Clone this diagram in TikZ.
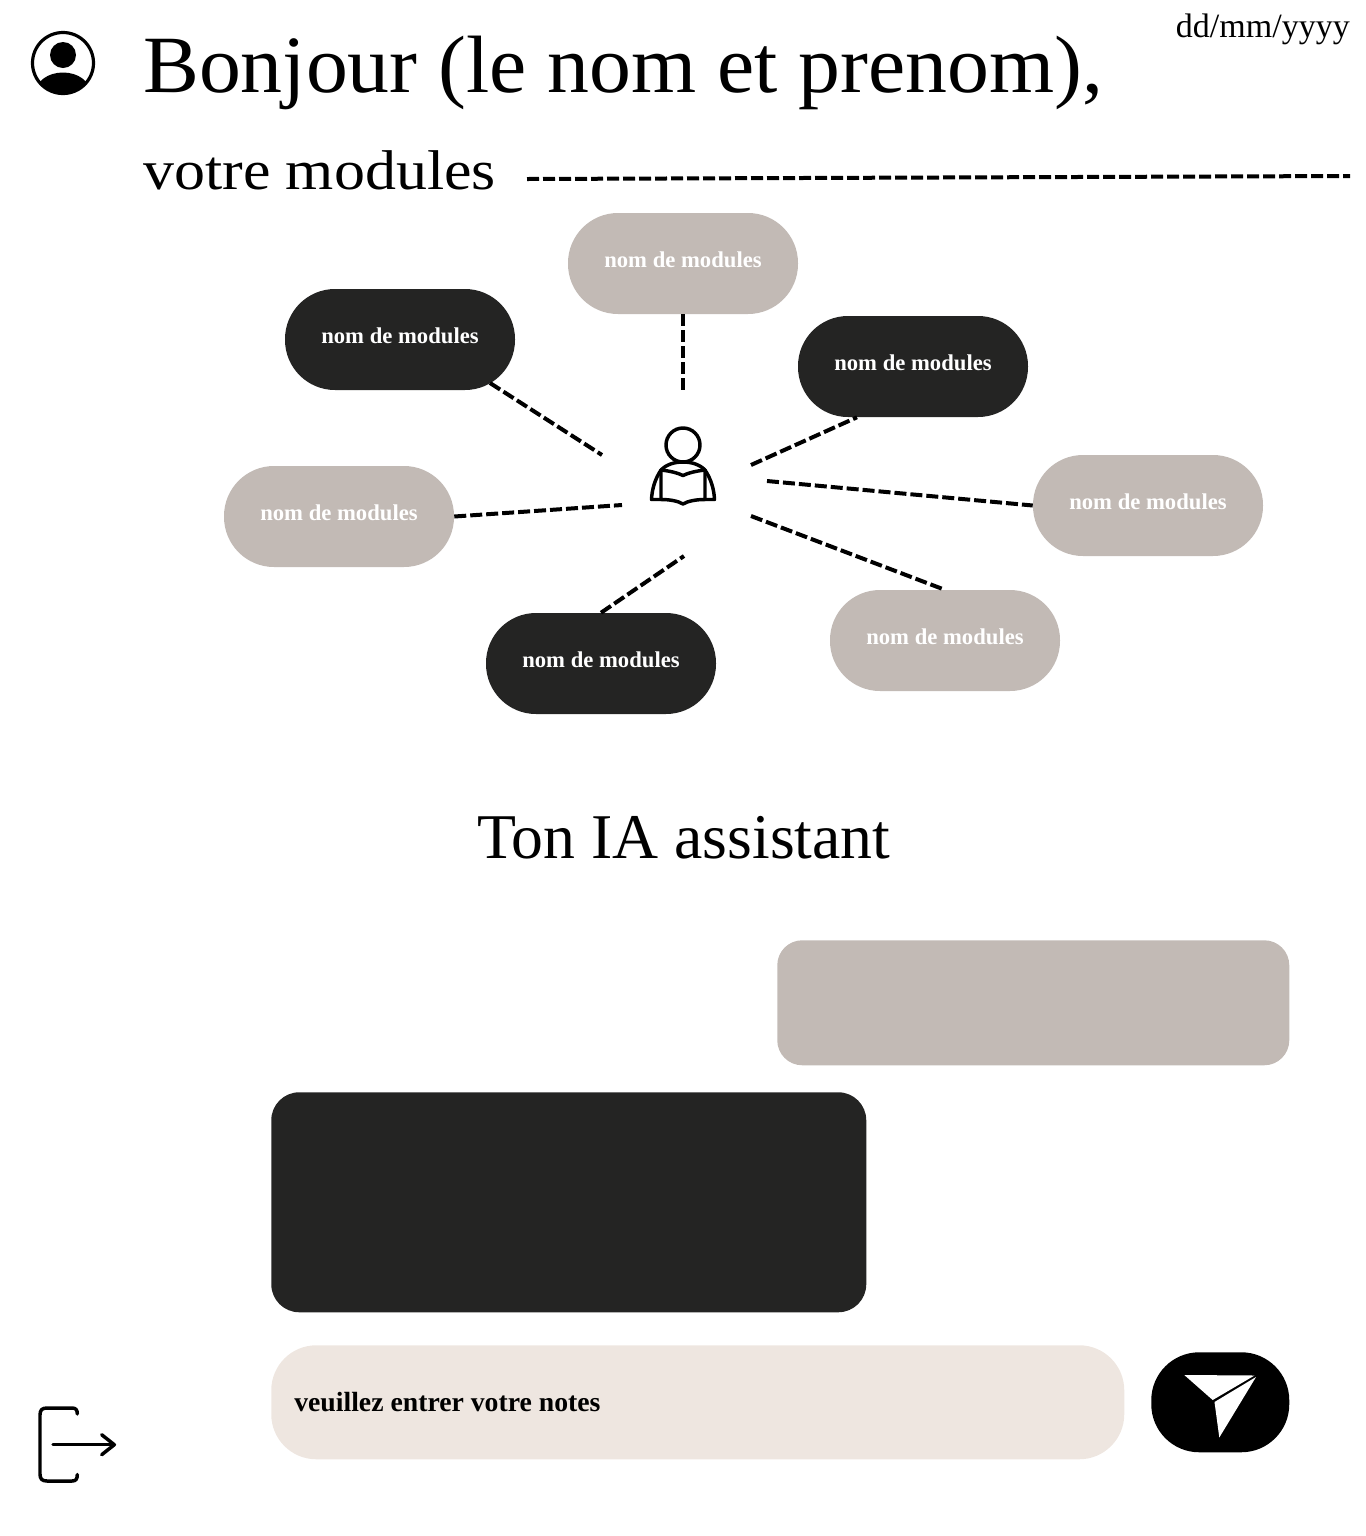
\documentclass[tikz,border=0pt]{standalone}
\usepackage{fontspec}
\setmainfont{Liberation Serif}
\usetikzlibrary{calc}
\definecolor{ink}{HTML}{000000}
\definecolor{sombre}{HTML}{242423}
\definecolor{taupe}{HTML}{C2BAB5}
\definecolor{creme}{HTML}{EEE6E0}
\tikzset{
  modbase/.style={rounded corners=50*0.75pt,minimum width=230*0.75pt,minimum height=101*0.75pt,inner sep=0pt,
    font=\fontsize{17pt}{18pt}\bfseries,text=white,text height=8.7pt,text depth=2.3pt,align=center},
  moddark/.style={modbase,fill=sombre},
  modsoft/.style={modbase,fill=taupe},
  dashline/.style={line width=3pt,draw=ink,dash pattern=on 9pt off 3pt},
  icon/.style={line width=2.6pt,draw=ink,line cap=round,line join=round},
  bubble/.style={inner sep=0pt,anchor=north west},
  grand/.style={anchor=base west,inner sep=0pt,font=\fontsize{61pt}{61pt}\selectfont\addfontfeature{FakeStretch=1.029},text=ink},
  moyen/.style={anchor=base west,inner sep=0pt,font=\fontsize{42pt}{42pt}\selectfont\addfontfeature{FakeStretch=1.106},text=ink},
  assist/.style={anchor=base west,inner sep=0pt,font=\fontsize{47.8pt}{48pt}\selectfont,text=ink}
}
\begin{document}
\begin{tikzpicture}[x=0.75pt,y=-0.75pt]
  \useasboundingbox (0,0) rectangle (1366,1536);

  \draw[icon,line width=2.4pt] (63,63) circle (30.5);
  \node[circle,fill=ink,minimum size=26*0.75pt,inner sep=0pt] (tete) at (63,55) {};
  \begin{scope}
    \clip (63,63) circle (31);
    \fill[ink] (63,92) ellipse (27 and 19.5);
    \fill[ink] (36,92) rectangle (90,100);
  \end{scope}

  \node[grand] (bonjour) at (143,92) {Bonjour (le nom et prenom),};
  \node[moyen] (votre) at (143,189) {votre modules};
  \node[anchor=base east,inner sep=0pt,font=\fontsize{25.5pt}{26pt}\selectfont,text=ink] (date) at (1350,37) {dd/mm/yyyy};
  \coordinate (filA) at (527,179);
  \coordinate (filB) at (1350,176);
  \draw[dashline] (filA) -- (filB);

  \node[modsoft] (modhaut) at (683,263.5) {nom de modules};
  \node[moddark] (modgauche) at (400,339.5) {nom de modules};
  \node[moddark] (moddroite) at (913,366.5) {nom de modules};
  \node[modsoft] (modouest) at (339,516.5) {nom de modules};
  \node[modsoft] (modest) at (1148,505.5) {nom de modules};
  \node[moddark] (modbas) at (601,663.5) {nom de modules};
  \node[modsoft] (modsud) at (945,640.5) {nom de modules};

  \coordinate (lecA) at (683,390);
  \coordinate (lecB) at (602,455);
  \coordinate (lecC) at (751,465);
  \coordinate (lecD) at (622,505);
  \coordinate (lecE) at (767,481);
  \coordinate (lecF) at (751,516);
  \coordinate (lecG) at (684,556);
  \draw[dashline] (modhaut.south) -- (lecA);
  \draw[dashline] ($(modgauche.center)+(90,43.5)$) -- (lecB);
  \draw[dashline] (lecC) -- ($(moddroite.south)+(-56,0)$);
  \draw[dashline] (modouest.east) -- (lecD);
  \draw[dashline] (lecE) -- (modest.west);
  \draw[dashline] (lecF) -- ($(modsud.north)+(-3,-1)$);
  \draw[dashline] (modbas.north) -- (lecG);

  \draw[icon] (683,445) circle (17);
  \draw[icon] (661,470) .. controls (670,471) and (678,473) .. (683,475.5) .. controls (688,473) and (696,471) .. (705,470);
  \draw[icon] (661,470) -- (661,499.5) .. controls (670,499.5) and (678,501) .. (683,504) .. controls (688,501) and (696,499.5) .. (705,499.5) -- (705,470);
  \draw[icon] (661,470) .. controls (667,464) and (675,462) .. (683,462) .. controls (691,462) and (699,464) .. (705,470);
  \draw[icon] (661,470) .. controls (655,479) and (652,489) .. (651.5,499.5) -- (661,499.5);
  \draw[icon] (705,470) .. controls (711,479) and (714,489) .. (714.5,499.5) -- (705,499.5);

  \node[assist] (assistant) at (477,858) {Ton IA assistant};

  \node[bubble,fill=taupe,rounded corners=25*0.75pt,minimum width=512*0.75pt,minimum height=125*0.75pt] (bulleia) at (777,940) {};
  \node[bubble,fill=sombre,rounded corners=28*0.75pt,minimum width=595*0.75pt,minimum height=220*0.75pt] (bullemoi) at (271,1092) {};
  \node[bubble,fill=creme,rounded corners=45*0.75pt,minimum width=853*0.75pt,minimum height=114*0.75pt] (saisie) at (271,1345) {};
  \node[anchor=base west,inner sep=0pt,font=\fontsize{20.8pt}{24pt}\bfseries,text=ink] (notes) at (294,1411) {veuillez entrer votre notes};
  \node[bubble,fill=ink,rounded corners=48*0.75pt,minimum width=138*0.75pt,minimum height=100*0.75pt] (envoi) at (1151,1352) {};
  \fill[white] (1184.3,1375) -- (1254.5,1375.5) -- (1212.7,1400) -- cycle;
  \fill[white] (1256,1377) -- (1214.5,1402) -- (1219.3,1437.5) -- cycle;

  \draw[icon] (77.3,1414) .. controls (77.3,1410) and (76,1408) .. (72,1408) -- (47,1408) .. controls (42,1408) and (40,1410) .. (40,1415) -- (40,1474) .. controls (40,1479) and (42,1481) .. (47,1481) -- (72,1481) .. controls (76,1481) and (77.3,1479) .. (77.3,1474.5);
  \coordinate (sortieA) at (53,1444.7);
  \coordinate (sortieB) at (114.3,1444.7);
  \draw[icon] (sortieA) -- (sortieB);
  \draw[icon] (101.7,1434.7) -- (sortieB) -- (101.7,1454.7);
\end{tikzpicture}
\end{document}
